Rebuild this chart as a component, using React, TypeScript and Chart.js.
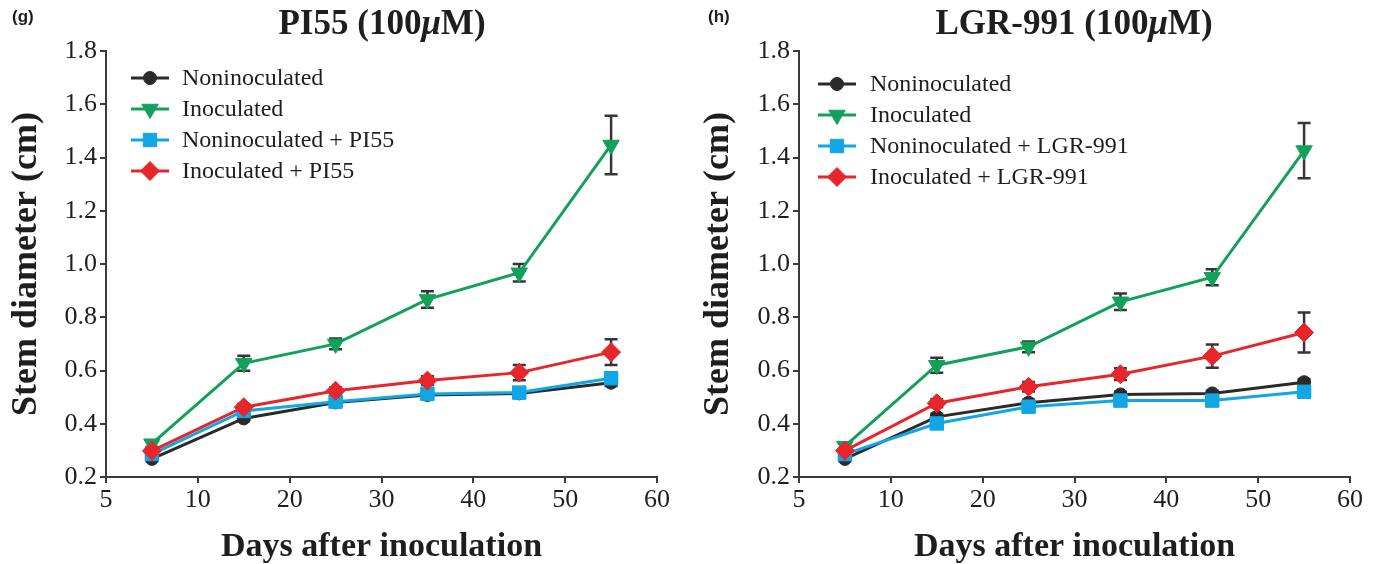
import React, { useEffect, useRef } from 'react';
import { Chart, registerables } from 'chart.js';
import { drawPoint } from 'chart.js/helpers';

Chart.register(...registerables);

// ---------- data ----------
const DAYS = [5, 15, 25, 35, 45, 55];
const X_TICK_VALUES = [0, 10, 20, 30, 40, 50, 60];
const X_TICK_LABELS = ['5', '10', '20', '30', '40', '50', '60'];
const Y_TICK_VALUES = [0.2, 0.4, 0.6, 0.8, 1.0, 1.2, 1.4, 1.6, 1.8];

const G_NAMES = ['Noninoculated', 'Inoculated', 'Noninoculated + PI55', 'Inoculated + PI55'];
const G_NONINOC = [0.268, 0.42, 0.48, 0.508, 0.514, 0.554];
const G_NONINOC_ERR = [0.008, 0.01, 0.01, 0.01, 0.01, 0.012];
const G_INOC = [0.325, 0.627, 0.7, 0.867, 0.967, 1.447];
const G_INOC_ERR = [0.012, 0.028, 0.02, 0.031, 0.033, 0.11];
const G_NONINOC_T = [0.286, 0.448, 0.483, 0.512, 0.517, 0.571];
const G_NONINOC_T_ERR = [0.008, 0.01, 0.01, 0.01, 0.01, 0.012];
const G_INOC_T = [0.298, 0.462, 0.524, 0.562, 0.592, 0.669];
const G_INOC_T_ERR = [0.01, 0.012, 0.012, 0.016, 0.029, 0.048];

const H_NAMES = ['Noninoculated', 'Inoculated', 'Noninoculated + LGR-991', 'Inoculated + LGR-991'];
const H_NONINOC = [0.268, 0.426, 0.479, 0.51, 0.514, 0.556];
const H_NONINOC_ERR = [0.008, 0.012, 0.012, 0.01, 0.01, 0.012];
const H_INOC = [0.316, 0.62, 0.689, 0.858, 0.95, 1.426];
const H_INOC_ERR = [0.012, 0.028, 0.02, 0.031, 0.03, 0.104];
const H_NONINOC_T = [0.286, 0.401, 0.464, 0.487, 0.487, 0.52];
const H_NONINOC_T_ERR = [0.008, 0.01, 0.01, 0.01, 0.01, 0.01];
const H_INOC_T = [0.299, 0.477, 0.539, 0.586, 0.654, 0.743];
const H_INOC_T_ERR = [0.01, 0.015, 0.018, 0.022, 0.044, 0.075];

// ---------- styles ----------
const SERIF = '"Liberation Serif", "Times New Roman", serif';
const SANS = '"Liberation Sans", Arial, sans-serif';
const AXIS = '#3a3a3a';
const TEXT = '#1e1e1e';
const STYLES = [
  { color: '#2a2a2a', pointStyle: 'circle', radius: 6.5, rotation: 0, order: 4 },
  { color: '#12a05a', pointStyle: 'triangle', radius: 9.5, rotation: 180, order: 3 },
  { color: '#12a6e4', pointStyle: 'rect', radius: 9.5, rotation: 0, order: 2 },
  { color: '#e6262b', pointStyle: 'rectRot', radius: 9.5, rotation: 0, order: 1 },
];

type PanelCfg = {
  left: number;
  axisLeft: number;
  padRight: number;
  label: string;
  labelX: number;
  title: [string, string, string];
  titleX: number;
  yTitleX: number;
  legendX: number;
  legendTextX: number;
  legendTop: number;
  names: string[];
  values: number[][];
  errors: number[][];
};

const PANELS: PanelCfg[] = [
  {
    left: 0, axisLeft: 106, padRight: 32, label: '(g)', labelX: 12,
    title: ['PI55 (100', 'μ', 'M)'], titleX: 382, yTitleX: 27,
    legendX: 131, legendTextX: 182, legendTop: 78,
    names: G_NAMES,
    values: [G_NONINOC, G_INOC, G_NONINOC_T, G_INOC_T],
    errors: [G_NONINOC_ERR, G_INOC_ERR, G_NONINOC_T_ERR, G_INOC_T_ERR],
  },
  {
    left: 689, axisLeft: 110, padRight: 28, label: '(h)', labelX: 19,
    title: ['LGR-991 (100', 'μ', 'M)'], titleX: 385, yTitleX: 30,
    legendX: 129, legendTextX: 181, legendTop: 84,
    names: H_NAMES,
    values: [H_NONINOC, H_INOC, H_NONINOC_T, H_INOC_T],
    errors: [H_NONINOC_ERR, H_INOC_ERR, H_NONINOC_T_ERR, H_INOC_T_ERR],
  },
];

function Panel({ cfg }: { cfg: PanelCfg }) {
  const ref = useRef<HTMLCanvasElement | null>(null);
  useEffect(() => {
    if (!ref.current) return;
    const errorBars = {
      id: 'errorBars',
      beforeDatasetsDraw(chart: any) {
        const ctx = chart.ctx;
        const xs = chart.scales.x;
        const ys = chart.scales.y;
        ctx.save();
        ctx.strokeStyle = '#353535';
        ctx.lineWidth = 2.5;
        chart.data.datasets.forEach((ds: any) => {
          ds.data.forEach((p: any, j: number) => {
            const e = ds.errors[j];
            const x = xs.getPixelForValue(p.x);
            const yt = ys.getPixelForValue(p.y + e);
            const yb = ys.getPixelForValue(p.y - e);
            ctx.beginPath();
            ctx.moveTo(x, yt);
            ctx.lineTo(x, yb);
            ctx.moveTo(x - 6.5, yt);
            ctx.lineTo(x + 6.5, yt);
            ctx.moveTo(x - 6.5, yb);
            ctx.lineTo(x + 6.5, yb);
            ctx.stroke();
          });
        });
        ctx.restore();
      },
    };
    const texts = {
      id: 'texts',
      afterDraw(chart: any) {
        const ctx = chart.ctx;
        const area = chart.chartArea;
        ctx.save();
        // panel label
        ctx.fillStyle = TEXT;
        ctx.font = `bold 17px ${SANS}`;
        ctx.textAlign = 'left';
        ctx.textBaseline = 'alphabetic';
        ctx.fillText(cfg.label, cfg.labelX, 22);
        // title with italic mu
        const fb = `bold 35px ${SERIF}`;
        const fi = `italic bold 35px ${SERIF}`;
        ctx.font = fb;
        const w0 = ctx.measureText(cfg.title[0]).width;
        const w2 = ctx.measureText(cfg.title[2]).width;
        ctx.font = fi;
        const w1 = ctx.measureText(cfg.title[1]).width;
        let tx = cfg.titleX - (w0 + w1 + w2) / 2;
        ctx.font = fb;
        ctx.fillText(cfg.title[0], tx, 34);
        tx += w0;
        ctx.font = fi;
        ctx.fillText(cfg.title[1], tx, 34);
        tx += w1;
        ctx.font = fb;
        ctx.fillText(cfg.title[2], tx, 34);
        // x title
        ctx.textAlign = 'center';
        ctx.font = `bold 34px ${SERIF}`;
        ctx.fillText('Days after inoculation', (area.left + area.right) / 2, 556);
        // y title
        ctx.save();
        ctx.translate(cfg.yTitleX, (area.top + area.bottom) / 2);
        ctx.rotate(-Math.PI / 2);
        ctx.textBaseline = 'middle';
        ctx.font = `bold 36px ${SERIF}`;
        ctx.fillText('Stem diameter (cm)', 0, 0);
        ctx.restore();
        // legend
        chart.data.datasets.forEach((ds: any, i: number) => {
          const st = STYLES[i];
          const y = cfg.legendTop + i * 31;
          ctx.strokeStyle = st.color;
          ctx.lineWidth = 3;
          ctx.beginPath();
          ctx.moveTo(cfg.legendX, y);
          ctx.lineTo(cfg.legendX + 38, y);
          ctx.stroke();
          ctx.fillStyle = st.color;
          ctx.lineWidth = 1;
          drawPoint(ctx, { pointStyle: st.pointStyle, rotation: st.rotation, radius: st.radius, borderWidth: 1 } as any, cfg.legendX + 19, y);
          ctx.fillStyle = TEXT;
          ctx.font = `24px ${SERIF}`;
          ctx.textAlign = 'left';
          ctx.textBaseline = 'middle';
          ctx.fillText(ds.label, cfg.legendTextX, y + 1);
        });
        ctx.restore();
      },
    };

    const datasets = cfg.values.map((vals, i) => ({
      label: cfg.names[i],
      data: vals.map((v, j) => ({ x: DAYS[j], y: v })),
      errors: cfg.errors[i],
      borderColor: STYLES[i].color,
      backgroundColor: STYLES[i].color,
      pointBackgroundColor: STYLES[i].color,
      pointBorderColor: STYLES[i].color,
      pointStyle: STYLES[i].pointStyle,
      pointRotation: STYLES[i].rotation,
      pointRadius: STYLES[i].radius,
      pointBorderWidth: 1,
      borderWidth: 3,
      tension: 0,
      order: STYLES[i].order,
    }));

    const chart = new Chart(ref.current, {
      type: 'line',
      data: { datasets } as any,
      options: {
        animation: false,
        responsive: false,
        maintainAspectRatio: false,
        layout: { padding: { left: 0, right: cfg.padRight, top: 51, bottom: 0 } },
        plugins: {
          legend: { display: false },
          tooltip: { enabled: false },
          title: { display: false },
        },
        scales: {
          x: {
            type: 'linear',
            min: 0,
            max: 60,
            afterBuildTicks: (s: any) => {
              s.ticks = X_TICK_VALUES.map((v) => ({ value: v }));
            },
            afterFit: (s: any) => {
              s.height = 87;
            },
            ticks: {
              callback: (v: any) => {
                const k = X_TICK_VALUES.indexOf(Number(v));
                return k >= 0 ? X_TICK_LABELS[k] : '';
              },
              font: { family: SERIF, size: 26 },
              color: TEXT,
              padding: 2,
              maxRotation: 0,
              autoSkip: false,
            },
            grid: { display: true, drawOnChartArea: false, drawTicks: true, tickLength: 6, color: AXIS, lineWidth: 2 },
            border: { display: true, color: AXIS, width: 2 },
          },
          y: {
            type: 'linear',
            min: 0.2,
            max: 1.8,
            afterBuildTicks: (s: any) => {
              s.ticks = Y_TICK_VALUES.map((v) => ({ value: v }));
            },
            afterFit: (s: any) => {
              s.width = cfg.axisLeft;
            },
            ticks: {
              callback: (v: any) => Number(v).toFixed(1),
              font: { family: SERIF, size: 26 },
              color: TEXT,
              padding: 3,
              autoSkip: false,
            },
            grid: { display: true, drawOnChartArea: false, drawTicks: true, tickLength: 6, color: AXIS, lineWidth: 2 },
            border: { display: true, color: AXIS, width: 2 },
          },
        },
      } as any,
      plugins: [errorBars, texts],
    });
    return () => chart.destroy();
  }, [cfg]);
  return (
    <canvas
      ref={ref}
      width={689}
      height={564}
      style={{ position: 'absolute', left: cfg.left, top: 0, width: 689, height: 564, display: 'block' }}
    />
  );
}

export default function App() {
  return (
    <div style={{ position: 'absolute', left: 0, top: 0, width: 1378, height: 564, background: '#ffffff', overflow: 'hidden' }}>
      {PANELS.map((p) => (
        <Panel key={p.label} cfg={p} />
      ))}
    </div>
  );
}
